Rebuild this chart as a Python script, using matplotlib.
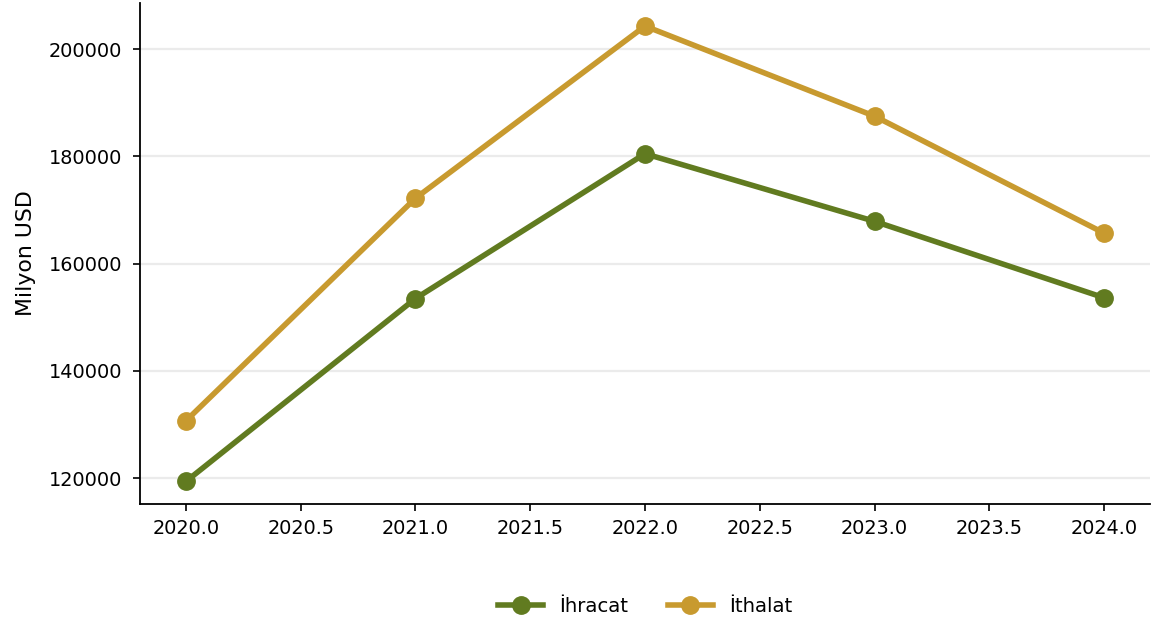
import matplotlib
matplotlib.use("Agg")
import matplotlib.pyplot as plt

plt.rcParams['font.family'] = ['DejaVu Sans']

years = [2020, 2021, 2022, 2023, 2024]
ihracat = [119400, 153500, 180500, 167900, 153650]
ithalat = [130700, 172200, 204300, 187500, 165700]

green = "#617b20"
gold = "#c89a2f"
fs = 13.9

fig, ax = plt.subplots(figsize=(11.53, 6.25), dpi=100)
ax.plot(years, ihracat, color=green, lw=4, marker="o", ms=12.5, label="İhracat")
ax.plot(years, ithalat, color=gold, lw=4, marker="o", ms=12.5, label="İthalat")

ax.set_ylabel("Milyon USD", fontsize=15.8, labelpad=9)
ax.tick_params(labelsize=fs, length=5.2, width=1.2, pad=5.5)
ax.tick_params(axis="y", pad=7.5)
ax.grid(axis="y", color="#ebebeb", lw=1.6)
ax.set_axisbelow(True)
for s in ["top", "right"]:
    ax.spines[s].set_visible(False)
for s in ["left", "bottom"]:
    ax.spines[s].set_linewidth(1.3)
ax.set_xlim(2019.8, 2024.2)
ax.set_ylim(115200, 208600)

ax.legend(loc="center", bbox_to_anchor=(0.5, -0.204), ncol=2, frameon=False,
          fontsize=14.2, handlelength=2.3)
fig.subplots_adjust(left=0.1214, right=0.9974, top=0.9952, bottom=0.1936)
fig.savefig("out.png", dpi=100)
